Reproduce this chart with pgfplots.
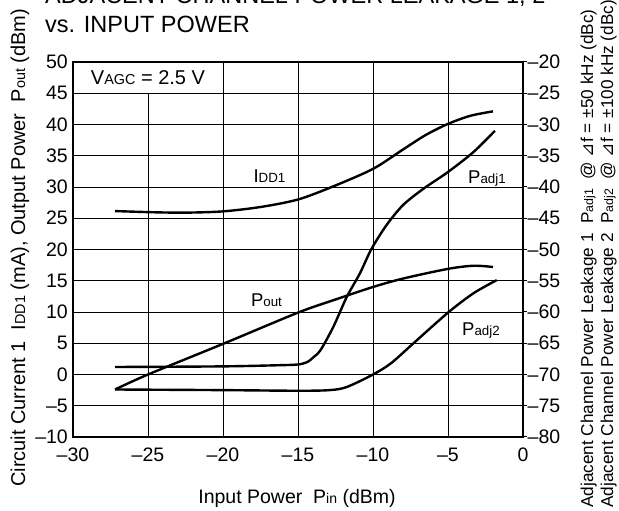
\documentclass[border=0pt]{standalone}
\usepackage{fontspec}
\setmainfont{Liberation Sans}
\newfontfamily\symfont{DejaVu Sans}
\usepackage{pgfplots}
\pgfplotsset{compat=1.18}
\newcommand\sub[1]{\scalebox{0.72}{#1}}
\newcommand\fs[1]{\fontsize{#1bp}{#1bp}\selectfont}

\begin{document}
\begin{tikzpicture}
\begin{axis}[at={(73bp,74bp)}, anchor=south west, scale only axis,
 width=450bp, height=375bp,
 xmin=-30, xmax=0, ymin=-10, ymax=50,
 xtick={-30,-25,...,0}, ytick={-10,-5,...,50},
 xticklabels={–30,–25,–20,–15,–10,–5,0},
 yticklabels={–10,–5,0,5,10,15,20,25,30,35,40,45,50},
 grid=major, grid style={black, line width=1bp},
 axis line style={black, line width=1.8bp},
 major tick length=0pt,
 tick label style={font=\fs{19.5}, inner sep=0pt},
 xticklabel style={yshift=-11bp},
 yticklabel style={xshift=-5bp},
 ytick pos=left, xtick pos=bottom,
 clip=false]
\fill[white] ([xshift=1.2bp,yshift=0.6bp]axis cs:-30,45) rectangle ([xshift=-0.6bp,yshift=-1.2bp]axis cs:-20,50);
\node[font=\fs{20}] at (axis cs:-25,47.5) {V\sub{AGC} = 2.5 V};
% I_DD1
\addplot[black, line width=2.4bp, smooth, no markers] coordinates {
(-27.2,26.15) (-24.5,25.95) (-22.4,25.9) (-20,26.1) (-17.5,26.8) (-15,28.0) (-12.65,30.1) (-10,32.9) (-8,36.0) (-6.5,38.3) (-5,40.1) (-3.5,41.4) (-2,42.1)};
% P_out
\addplot[black, line width=2.4bp, smooth, no markers] coordinates {
(-27.2,-2.4) (-25,0) (-20,4.9) (-15,9.9) (-12.5,12.0) (-10,14.0) (-8,15.35) (-5,16.9) (-3.3,17.4) (-2,17.2)};
\node[font=\fs{18.5}] at (axis cs:-16.9,31.7) {I\sub{DD1}};
\node[font=\fs{18.5}] at (axis cs:-17.1,11.9) {P\sub{out}};
\node[font=\fs{18.5}] at (axis cs:-2.4,31.4) {P\sub{adj1}};
\node[font=\fs{18.5}] at (axis cs:-2.8,7.1) {P\sub{adj2}};
\end{axis}
\begin{axis}[at={(73bp,74bp)}, anchor=south west, scale only axis,
 width=450bp, height=375bp,
 xmin=-30, xmax=0, ymin=-80, ymax=-20,
 hide x axis, axis y line*=right,
 ytick={-80,-75,...,-20},
 yticklabels={–80,–75,–70,–65,–60,–55,–50,–45,–40,–35,–30,–25,–20},
 tick align=outside, major tick length=3.5bp,
 tick style={black, line width=1bp},
 axis line style={black, line width=1.8bp},
 yticklabel style={font=\fs{19.5}, inner sep=0pt, xshift=1bp},
 clip=false]
% P_adj1
\addplot[black, line width=2.4bp, smooth, tension=0.5, no markers] coordinates {
(-27.2,-68.8) (-20,-68.7) (-16,-68.5) (-15,-68.4) (-14.6,-68.2) (-14.3,-67.9) (-14,-67.3) (-13.5,-66.1) (-12.65,-62.4) (-11.75,-57.6) (-10.87,-53.8) (-10.1,-49.9) (-9.1,-46.1) (-8.0,-42.9) (-6.65,-40.3) (-5.0,-37.6) (-3.3,-34.4) (-1.87,-31.0)};
% P_adj2
\addplot[black, line width=2.4bp, smooth, tension=0.5, no markers] coordinates {
(-27.2,-72.4) (-20,-72.5) (-15,-72.6) (-12.9,-72.5) (-11.75,-72.0) (-10,-70.0) (-8.8,-68.2) (-7.3,-65.0) (-5,-60.1) (-3.3,-57.0) (-1.75,-54.9)};
\end{axis}
% titles
\node[anchor=base west, inner sep=0pt, font=\fs{23.5}] at (45bp,507bp) {ADJACENT CHANNEL POWER LEAKAGE 1, 2};
\node[anchor=base west, inner sep=0pt, font=\fs{23.5}] at (45bp,478bp) {vs. INPUT POWER};
% x label
\node[anchor=base, inner sep=0pt, font=\fs{19.5}] at (297bp,8bp) {Input Power\ \ P\sub{in} (dBm)};
% left y label
\node[rotate=90, anchor=base west, inner sep=0pt, font=\fs{20}] at (25bp,24bp) {Circuit Current 1\ \ I\sub{DD1} (mA), Output Power\ \ P\sub{out} (dBm)};
% right labels
\node[rotate=90, anchor=base west, inner sep=0pt, font=\fs{17.2}] at (593bp,3bp) {Adjacent Channel Power Leakage 1\ \ P\sub{adj1}\ \ @ {\symfont ⊿}f = ±50 kHz (dBc)};
\node[rotate=90, anchor=base west, inner sep=0pt, font=\fs{17.2}] at (613bp,3bp) {Adjacent Channel Power Leakage 2\ \ P\sub{adj2}\ \ @ {\symfont ⊿}f = ±100 kHz (dBc)};
\pgfresetboundingbox
\path[use as bounding box] (0,0) rectangle (619bp,511bp);
\end{tikzpicture}
\end{document}
